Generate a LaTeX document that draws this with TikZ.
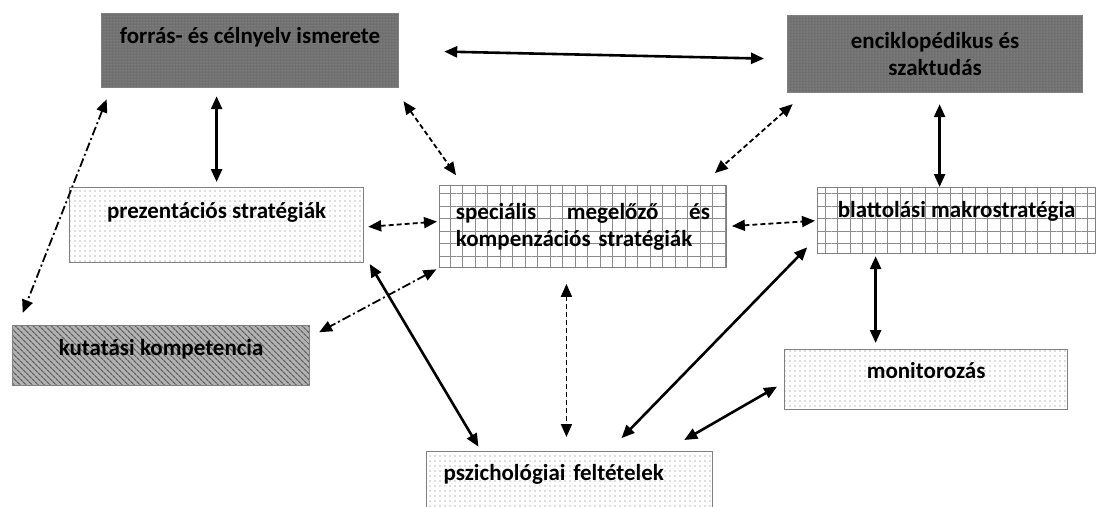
\documentclass[tikz,border=0pt]{standalone}
\usepackage{fontspec}
\setmainfont{Carlito}
\usetikzlibrary{arrows.meta,patterns.meta}

\begin{document}
\begin{tikzpicture}[x=1pt, y=-1pt,
    box/.style={draw=black!50, line width=1.2pt, inner ysep=0pt, inner xsep=4pt,
        font=\fontsize{23}{27}\selectfont\bfseries, text=black},
    darkbox/.style={box, preaction={fill=black!56}, pattern={Dots[distance=3pt,radius=0.5pt]}, pattern color=black!36},
    dotbox/.style={box, preaction={fill=white}, pattern={Dots[distance=5pt,radius=0.65pt]}, pattern color=black!55},
    gridbox/.style={box, preaction={fill=white}, pattern={Hatch[distance=12.5pt,angle=0,line width=0.9pt]}, pattern color=black!45},
    hatchbox/.style={box, preaction={fill=black!30}, pattern={Lines[distance=4pt,angle=-45,line width=1.3pt]}, pattern color=black!62},
    link/.style={{Triangle[length=13pt,width=11pt]}-{Triangle[length=13pt,width=11pt]}, line width=2.6pt},
    dlink/.style={link, line width=1.8pt, dash pattern=on 5pt off 3pt},
    dclink/.style={link, line width=1.8pt, dash pattern=on 9pt off 3pt on 2pt off 3pt}]
        \path[use as bounding box, fill=white] (0,0) rectangle (1097,506);
        % Knowledge boxes (top)
        \node[darkbox, anchor=north west, minimum width=297pt, text height=30pt, text depth=44pt] (forras) at (101,13) {forrás- és célnyelv ismerete};
        \node[darkbox, anchor=north west, minimum width=295pt, minimum height=77pt, align=center] (enc) at (787,15) {enciklopédikus és\\szaktudás};
        % Strategy boxes (middle)
        \node[dotbox, anchor=north west, minimum width=294pt, text height=31pt, text depth=44pt] (prez) at (69,187) {prezentációs stratégiák};
        \node[gridbox, anchor=north west, minimum width=287pt, minimum height=82pt, text width=254pt, align=left] (spec) at (439,185) {speciális\hfill megelőző\hfill és\\kompenzációs stratégiák};
        \node[gridbox, anchor=north west, minimum width=278pt, text height=30pt, text depth=36pt] (blatt) at (817,187) {blattolási makrostratégia};
        % Lower boxes
        \node[hatchbox, anchor=north west, minimum width=297pt, text height=30pt, text depth=30pt] (kut) at (12,325) {kutatási kompetencia};
        \node[dotbox, anchor=north west, minimum width=283pt, text height=29pt, text depth=31pt] (mon) at (784,349) {monitorozás};
        \node[dotbox, anchor=north west, text width=252pt, inner xsep=17pt, text height=29pt, text depth=40pt, align=left] (psz) at (426,451) {pszichológiai feltételek};
        % Solid links
        \draw[link, shorten <=45pt, shorten >=23pt] (forras.east) -- ([yshift=-5pt]enc.west);
        \draw[link, shorten <=8pt, shorten >=5pt] (prez.north |- forras.south) -- (prez.north);
        \draw[link, shorten <=11pt] ([xshift=4.5pt]enc.south) -- ([xshift=4.5pt]enc.south |- blatt.north);
        \draw[link, shorten <=1pt, shorten >=5pt] ([xshift=5pt]prez.south east) -- ([xshift=55pt]psz.north west);
        \draw[link, shorten <=14pt, shorten >=18pt] ([yshift=-16.7pt]blatt.west) -- ([xshift=183pt]psz.north west);
        \draw[link, shorten <=2pt, shorten >=6pt] ([xshift=-81pt]blatt.south) -- ([xshift=-81pt]blatt.south |- mon.north);
        \draw[link, shorten <=8pt, shorten >=22pt] ([yshift=-3pt]mon.west) -- ([xshift=-48pt]psz.north east);
        % Dashed links
        \draw[dlink, shorten <=16pt, shorten >=12pt] ([xshift=-5pt]forras.south east) -- ([xshift=24pt]spec.north west);
        \draw[dlink, shorten <=16.5pt, shorten >=18pt] ([xshift=18pt]enc.south west) -- ([xshift=-25.5pt]spec.north east);
        \draw[dlink, shorten <=4pt, shorten >=2pt] ([yshift=-2pt]prez.east) -- ([yshift=5pt]spec.west);
        \draw[dlink, shorten <=5pt, shorten >=2pt] (spec.east) -- (blatt.west);
        \draw[dlink, shorten <=16pt, shorten >=14pt] ([xshift=-16.5pt]spec.south) -- ([xshift=-16.5pt]spec.south |- psz.north);
        % Dash-dot links to research competence
        \draw[dclink, shorten <=12pt, shorten >=13pt] ([xshift=10pt]forras.south west) -- ([xshift=6pt]kut.north west);
        \draw[dclink, shorten <=3pt, shorten >=10pt] (spec.south west) -- ([yshift=-12pt]kut.north east);
\end{tikzpicture}
\end{document}
